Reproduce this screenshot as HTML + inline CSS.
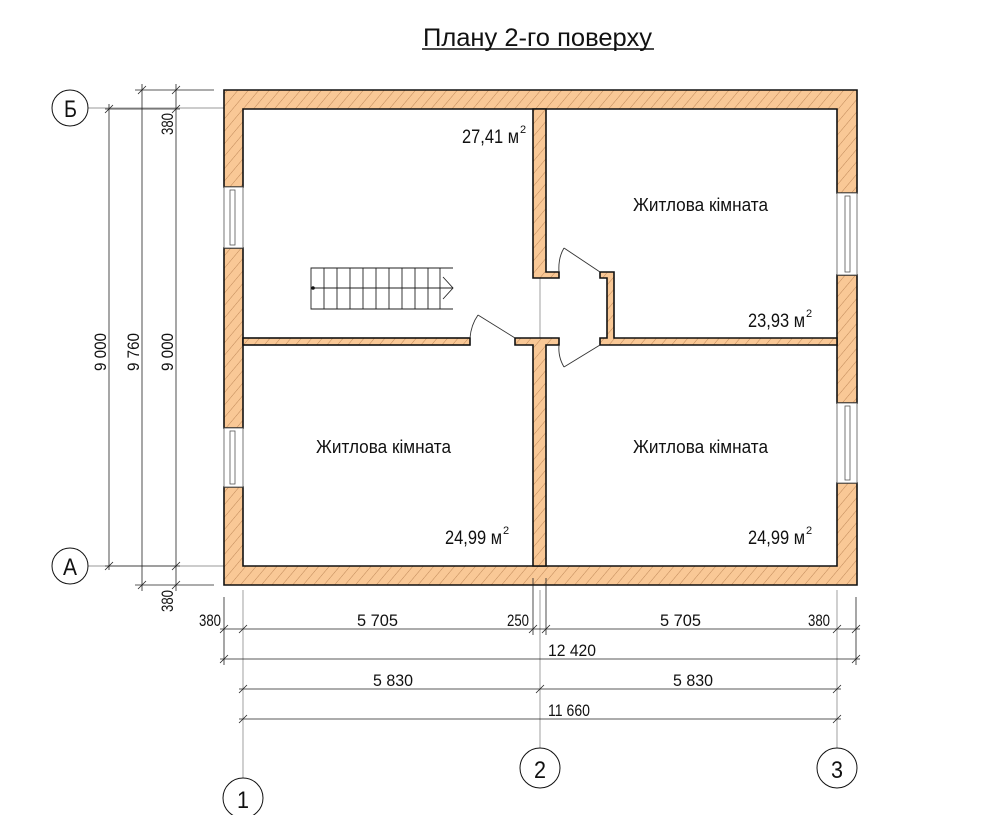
<!DOCTYPE html>
<html><head><meta charset="utf-8"><style>
html,body{margin:0;padding:0;background:#fff;}
svg{display:block;}
text{font-family:"Liberation Sans Narrow","Liberation Sans",sans-serif;fill:#111;}
</style></head><body>
<svg width="1000" height="815" viewBox="0 0 1000 815" xmlns="http://www.w3.org/2000/svg">
<defs>
<pattern id="h" patternUnits="userSpaceOnUse" width="8" height="8" patternTransform="rotate(40)">
<rect width="8" height="8" fill="#f9c896"/>
<line x1="0" y1="0" x2="0" y2="8" stroke="#b07848" stroke-width="0.8"/>
</pattern>
</defs>

<text x="423" y="46" font-size="25" textLength="229" lengthAdjust="spacingAndGlyphs">Плану 2-го поверху</text>
<line x1="422" y1="49" x2="654" y2="49" stroke="#111" stroke-width="1.5"/>

<g stroke="#777" stroke-width="0.7" fill="none">
<line x1="88" y1="108" x2="235" y2="108"/>
<line x1="88" y1="566" x2="235" y2="566"/>
<line x1="243" y1="590" x2="243" y2="778"/>
<line x1="540" y1="590" x2="540" y2="748"/>
<line x1="837" y1="590" x2="837" y2="748"/>
<line x1="540" y1="278" x2="540" y2="338"/>
</g>

<g fill="url(#h)" stroke="#111" stroke-width="1.6">
<path d="M224,90 H857 V193 H837 V109 H243 V187 H224 Z"/>
<path d="M224,585 H857 V483 H837 V566 H243 V487 H224 Z"/>
<rect x="224" y="248" width="19" height="180"/>
<rect x="837" y="275" width="20" height="128"/>
<path d="M533,109 H546 V272 H559 V278 H533 Z"/>
<path d="M600,272 H614 V338 H837 V345 H600 V338 H607 V278 H600 Z"/>
<rect x="243" y="338" width="227" height="7"/>
<path d="M515,338 H559 V345 H546 V566 H533 V345 H515 Z"/>
</g>

<g stroke="#555" stroke-width="0.8" fill="#fff">
<rect x="224" y="187" width="19" height="61"/>
<rect x="230" y="190" width="5" height="55"/>
<rect x="224" y="428" width="19" height="59"/>
<rect x="230" y="431" width="5" height="53"/>
<rect x="837" y="193" width="20" height="82"/>
<rect x="845" y="196" width="5" height="76"/>
<rect x="837" y="403" width="20" height="80"/>
<rect x="845" y="406" width="5" height="74"/>
</g>

<g stroke="#333" stroke-width="0.9" fill="none">
<line x1="515" y1="338" x2="478" y2="315"/>
<path d="M478,315 Q471,325 470,338"/>
<line x1="600" y1="272" x2="564" y2="248"/>
<path d="M564,248 Q558,258 559,272"/>
<line x1="600" y1="345" x2="564" y2="367"/>
<path d="M564,367 Q558,357 559,345"/>
</g>

<g stroke="#222" stroke-width="0.9" fill="none">
<path d="M453,268 H311 V309 H453"/>
<line x1="311" y1="288" x2="453" y2="288"/>
<line x1="324" y1="268" x2="324" y2="309"/><line x1="337" y1="268" x2="337" y2="309"/>
<line x1="350" y1="268" x2="350" y2="309"/><line x1="363" y1="268" x2="363" y2="309"/>
<line x1="376" y1="268" x2="376" y2="309"/><line x1="389" y1="268" x2="389" y2="309"/>
<line x1="402" y1="268" x2="402" y2="309"/><line x1="415" y1="268" x2="415" y2="309"/>
<line x1="428" y1="268" x2="428" y2="309"/><line x1="440" y1="268" x2="440" y2="309"/>
<path d="M443,277 L453,288 L443,299"/>
</g>
<circle cx="313" cy="288" r="1.8" fill="#111"/>

<g font-size="19">
<text x="462" y="143" textLength="57" lengthAdjust="spacingAndGlyphs">27,41 м</text>
<text x="748" y="327" textLength="57" lengthAdjust="spacingAndGlyphs">23,93 м</text>
<text x="445" y="544" textLength="57" lengthAdjust="spacingAndGlyphs">24,99 м</text>
<text x="748" y="544" textLength="57" lengthAdjust="spacingAndGlyphs">24,99 м</text>
</g>
<g font-size="11">
<text x="520" y="133">2</text>
<text x="806" y="317">2</text>
<text x="503" y="534">2</text>
<text x="806" y="534">2</text>
</g>
<g font-size="18">
<text x="316" y="453" textLength="135" lengthAdjust="spacingAndGlyphs">Житлова кімната</text>
<text x="633" y="453" textLength="135" lengthAdjust="spacingAndGlyphs">Житлова кімната</text>
<text x="633" y="211" textLength="135" lengthAdjust="spacingAndGlyphs">Житлова кімната</text>
</g>

<g stroke="#222" stroke-width="0.8" fill="none">
<line x1="109" y1="104" x2="109" y2="570"/>
<line x1="142" y1="84" x2="142" y2="591"/>
<line x1="176" y1="84" x2="176" y2="591"/>
<line x1="135" y1="90" x2="214" y2="90"/>
<line x1="135" y1="585" x2="214" y2="585"/>
<line x1="105" y1="109" x2="180" y2="109"/>
<line x1="105" y1="566" x2="180" y2="566"/>
<path d="M105,113 L113,105 M105,570 L113,562 M138,94 L146,86 M138,589 L146,581 M172,94 L180,86 M172,113 L180,105 M172,570 L180,562 M172,589 L180,581"/>
</g>
<g font-size="17">
<text transform="translate(106,352) rotate(-90)" x="-19" textLength="38" lengthAdjust="spacingAndGlyphs">9 000</text>
<text transform="translate(139,352) rotate(-90)" x="-19" textLength="38" lengthAdjust="spacingAndGlyphs">9 760</text>
<text transform="translate(173,352) rotate(-90)" x="-19" textLength="38" lengthAdjust="spacingAndGlyphs">9 000</text>
<text transform="translate(173,124) rotate(-90)" x="-11" textLength="22" lengthAdjust="spacingAndGlyphs">380</text>
<text transform="translate(173,601) rotate(-90)" x="-11" textLength="22" lengthAdjust="spacingAndGlyphs">380</text>
</g>

<g stroke="#222" stroke-width="0.8" fill="none">
<line x1="224" y1="597" x2="224" y2="665"/>
<line x1="856" y1="597" x2="856" y2="665"/>
<line x1="533" y1="578" x2="533" y2="635"/>
<line x1="546" y1="578" x2="546" y2="635"/>
<line x1="220" y1="629" x2="860" y2="629"/>
<line x1="220" y1="659" x2="860" y2="659"/>
<line x1="239" y1="689" x2="841" y2="689"/>
<line x1="239" y1="719" x2="841" y2="719"/>
<path d="M220,633 L228,625 M239,633 L247,625 M529,633 L537,625 M542,633 L550,625 M833,633 L841,625 M852,633 L860,625
M220,663 L228,655 M852,663 L860,655
M239,693 L247,685 M536,693 L544,685 M833,693 L841,685
M239,723 L247,715 M833,723 L841,715"/>
</g>
<g font-size="17">
<text x="199" y="626" textLength="22" lengthAdjust="spacingAndGlyphs">380</text>
<text x="357" y="626" textLength="41" lengthAdjust="spacingAndGlyphs">5 705</text>
<text x="507" y="626" textLength="22" lengthAdjust="spacingAndGlyphs">250</text>
<text x="660" y="626" textLength="41" lengthAdjust="spacingAndGlyphs">5 705</text>
<text x="808" y="626" textLength="22" lengthAdjust="spacingAndGlyphs">380</text>
<text x="548" y="656" textLength="48" lengthAdjust="spacingAndGlyphs">12 420</text>
<text x="373" y="686" textLength="40" lengthAdjust="spacingAndGlyphs">5 830</text>
<text x="673" y="686" textLength="40" lengthAdjust="spacingAndGlyphs">5 830</text>
<text x="548" y="716" textLength="42" lengthAdjust="spacingAndGlyphs">11 660</text>
</g>

<g stroke="#111" stroke-width="1" fill="#fff">
<circle cx="70" cy="108" r="18"/>
<circle cx="70" cy="566" r="18"/>
<circle cx="243" cy="798" r="20"/>
<circle cx="540" cy="768" r="20"/>
<circle cx="837" cy="768" r="20"/>
</g>
<g font-size="24">
<text x="64" y="117" textLength="13" lengthAdjust="spacingAndGlyphs">Б</text>
<text x="63" y="575" textLength="14" lengthAdjust="spacingAndGlyphs">А</text>
<text x="237" y="808" textLength="12" lengthAdjust="spacingAndGlyphs">1</text>
<text x="534" y="778" textLength="12" lengthAdjust="spacingAndGlyphs">2</text>
<text x="831" y="778" textLength="12" lengthAdjust="spacingAndGlyphs">3</text>
</g>
</svg>
</body></html>
